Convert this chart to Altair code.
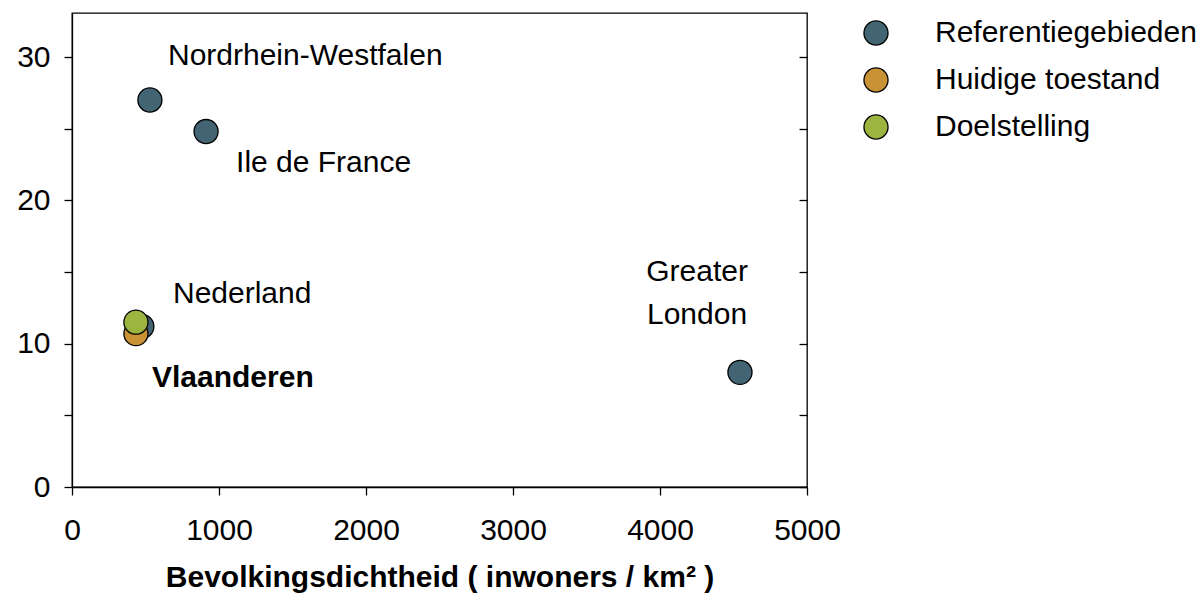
import altair as alt
import pandas as pd

# Point data
groups = ["Referentiegebieden", "Referentiegebieden", "Referentiegebieden",
          "Referentiegebieden", "Huidige toestand", "Doelstelling"]
regions = ["Nordrhein-Westfalen", "Ile de France", "Greater London",
           "Nederland", "Vlaanderen (huidig)", "Vlaanderen (doel)"]
density = [530, 912, 4544, 475, 435, 435]
value = [27.0, 24.8, 8.0, 11.2, 10.7, 11.5]

group_order = ["Referentiegebieden", "Huidige toestand", "Doelstelling"]
group_colors = ["#436573", "#c99234", "#9bb540"]

# Annotation labels
label_text = ["Nordrhein-Westfalen", "Ile de France", "Nederland"]
label_x = [653, 1116, 687]
label_y = [30.1, 22.6, 13.5]

bold_text = ["Vlaanderen"]
bold_x = [544]
bold_y = [7.6]

london_text = [["Greater", "London"]]
london_x = [4252]
london_y = [15.0]

x_ticks = [0, 1000, 2000, 3000, 4000, 5000]
y_ticks = [0, 5, 10, 15, 20, 25, 30]

FONT = "Liberation Sans"
FS = 30

pts = pd.DataFrame({"group": groups, "region": regions, "density": density,
                    "value": value, "ord": list(range(len(groups)))})
labs = pd.DataFrame({"text": label_text, "x": label_x, "y": label_y})
blab = pd.DataFrame({"text": bold_text, "x": bold_x, "y": bold_y})
ldn = pd.DataFrame({"text": london_text, "x": london_x, "y": london_y})

xscale = alt.Scale(domain=[0, 5000], nice=False, zero=False)
yscale = alt.Scale(domain=[0, 33.07], nice=False, zero=False)

x_enc = alt.X("density:Q", scale=xscale,
              axis=alt.Axis(title="Bevolkingsdichtheid ( inwoners / km² )",
                            values=x_ticks, format="d", grid=False,
                            tickSize=8, tickColor="black", domainColor="black",
                            labelFontSize=FS, labelFont=FONT, labelColor="black",
                            labelPadding=20, titleFontSize=FS, titleFont=FONT,
                            titleFontWeight="bold", titleColor="black",
                            titlePadding=17, labelFlush=False))
y_left = alt.Y("value:Q", scale=yscale,
               axis=alt.Axis(title=None, values=y_ticks, grid=False,
                             labelExpr="datum.value % 10 == 0 ? datum.label : ''",
                             tickSize=8, tickColor="black", domainColor="black",
                             labelFontSize=FS, labelFont=FONT, labelColor="black",
                             labelPadding=14, labelFlush=False, orient="left"))

points = alt.Chart(pts).mark_point(
    shape="circle", filled=True, size=580, stroke="black", strokeWidth=1.3, opacity=1
).encode(
    x=x_enc,
    y=y_left,
    color=alt.Color("group:N",
                    scale=alt.Scale(domain=group_order, range=group_colors),
                    legend=alt.Legend(title=None, orient="none", legendX=789, legendY=5,
                                      symbolType="circle", symbolSize=580,
                                      symbolStrokeColor="black", symbolStrokeWidth=1.3,
                                      symbolOpacity=1,
                                      labelFontSize=FS, labelFont=FONT, labelColor="black",
                                      labelOffset=44, rowPadding=17, labelLimit=400)),
    order=alt.Order("ord:Q"),
)

right_axis = alt.Chart(pts).mark_point(opacity=0).encode(
    x=alt.X("density:Q", scale=xscale, axis=None),
    y=alt.Y("value:Q", scale=yscale,
            axis=alt.Axis(title=None, values=y_ticks, orient="right", offset=-8,
                          domain=False, labels=False, grid=False,
                          tickSize=8, tickColor="black")),
)

texts = alt.Chart(labs).mark_text(
    align="left", baseline="middle", font=FONT, fontSize=FS, color="black"
).encode(x=alt.X("x:Q", scale=xscale, axis=None), y=alt.Y("y:Q", scale=yscale, axis=None), text="text:N")

btexts = alt.Chart(blab).mark_text(
    align="left", baseline="middle", font=FONT, fontSize=FS, fontWeight="bold", color="black"
).encode(x=alt.X("x:Q", scale=xscale, axis=None), y=alt.Y("y:Q", scale=yscale, axis=None), text="text:N")

ltexts = alt.Chart(ldn).mark_text(
    align="center", baseline="middle", font=FONT, fontSize=FS, color="black", lineHeight=43
).encode(x=alt.X("x:Q", scale=xscale, axis=None), y=alt.Y("y:Q", scale=yscale, axis=None), text="text")

chart = alt.layer(points, right_axis, texts, btexts, ltexts).resolve_axis(
    y="independent", x="independent"
).resolve_scale(y="shared", x="shared").properties(
    width=735, height=474,
    autosize=alt.AutoSizeParams(type="none"),
    padding={"left": 64, "top": 5, "right": 389, "bottom": 109},
).configure_view(stroke="black", strokeWidth=1.3).configure_axis(
    domainWidth=1.3, tickWidth=1.3
)

chart.save("out.html", embed_options={"renderer": "svg", "actions": False})
